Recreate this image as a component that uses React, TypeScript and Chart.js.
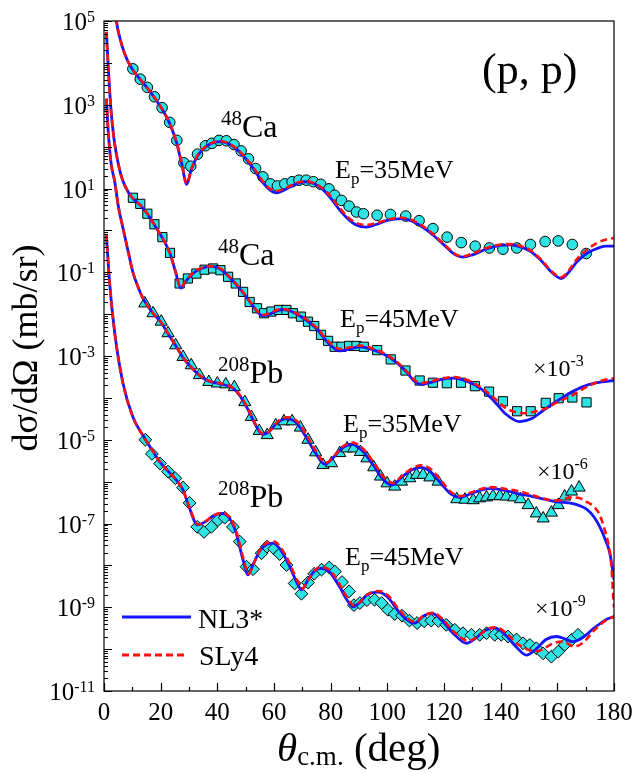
import { useEffect, useRef } from 'react';
import { Chart, registerables } from 'chart.js';
Chart.register(...registerables);

type Pair = [number, number];

// ---------- axis / legend texts ----------
const xTickValues = [0, 20, 40, 60, 80, 100, 120, 140, 160, 180];
const yLabelExponents = [5, 3, 1, -1, -3, -5, -7, -9, -11];
const modelNames = ['NL3*', 'SLy4'];

// ---------- 48Ca, Ep = 35 MeV (unscaled) ----------
const ca35Exp: Pair[] = [
  [10.2, 7.2e3], [12.8, 4.1e3], [15.3, 2.6e3], [17.8, 1.55e3], [20.5, 850], [23.2, 380], [25.7, 141],
  [28.2, 41], [30.6, 34], [33.0, 66], [35.8, 105], [38.1, 120], [40.6, 141], [43.2, 138], [45.9, 112],
  [48.4, 79], [51.0, 51], [53.5, 30], [56.1, 19], [58.7, 12.9], [61.2, 11.5], [63.8, 12.9], [66.4, 14.5],
  [68.8, 15.8], [71.4, 15.8], [73.9, 14.5], [76.5, 12.6], [79.4, 9.8], [81.4, 6.9], [83.8, 5.2],
  [86.5, 3.8], [89.1, 2.75], [91.6, 2.5], [96.4, 2.3], [101.1, 2.4], [106.5, 2.2], [111.2, 1.7],
  [116.1, 1.1], [121.1, 0.69], [126.1, 0.51], [131.0, 0.42], [136.0, 0.38], [140.8, 0.355],
  [145.7, 0.38], [150.5, 0.46], [155.7, 0.54], [160.3, 0.56], [165.3, 0.46], [170.2, 0.28],
];
const ca35NL3: Pair[] = [
  [3.6, 4e5], [4.4, 1e5], [5.5, 4.2e4], [7.3, 1.66e4], [9.7, 7.6e3], [12.8, 4.0e3], [15.3, 2.5e3],
  [17.8, 1.48e3], [20.5, 790], [23.2, 355], [25.5, 132], [27.4, 40], [29.2, 12.6], [30.8, 28], [33, 60],
  [36, 100], [38.8, 126], [41.4, 132], [44, 117], [47, 85], [50, 52], [53, 28], [56, 14], [58.5, 9.3],
  [60.9, 7.9], [63.5, 9.1], [66.5, 11.7], [69, 13.8], [71.4, 14.5], [74, 13.2], [77, 9.8], [80, 5.9],
  [83, 3.16], [86, 1.9], [89, 1.35], [92.6, 1.2], [96, 1.38], [100, 1.74], [105, 1.9], [110, 1.5],
  [115, 0.89], [120, 0.45], [124, 0.26], [126.7, 0.23], [130, 0.26], [135, 0.36], [140, 0.44],
  [143, 0.45], [146, 0.42], [150, 0.33], [154, 0.2], [158, 0.1], [161.4, 0.071], [164, 0.1],
  [167, 0.18], [170.3, 0.28], [174, 0.37], [177, 0.42], [180, 0.42],
];
const ca35SLy4: Pair[] = [
  [3.6, 4e5], [4.4, 1e5], [5.5, 4.2e4], [7.3, 1.66e4], [9.7, 7.6e3], [12.8, 4.0e3], [15.3, 2.5e3],
  [17.8, 1.48e3], [20.5, 790], [23.2, 355], [25.5, 135], [27.4, 42], [29.2, 13], [30.8, 29], [33, 62],
  [36, 102], [38.8, 128], [41.4, 134], [44, 119], [47, 87], [50, 54], [53, 30], [56, 15], [58.5, 10],
  [60.9, 8.7], [63.5, 9.8], [66.5, 12.3], [69, 14.3], [71.4, 14.8], [74, 13.5], [77, 10.2], [80, 6.5],
  [83, 3.55], [86, 2.1], [89, 1.5], [92.6, 1.35], [96, 1.48], [100, 1.8], [105, 2.0], [110, 1.6],
  [115, 0.95], [120, 0.47], [124, 0.27], [126.7, 0.24], [130, 0.28], [135, 0.38], [140, 0.46],
  [143, 0.47], [146, 0.44], [150, 0.35], [154, 0.21], [158, 0.105], [161.4, 0.076], [164, 0.11],
  [167, 0.21], [170.3, 0.34], [174, 0.5], [177, 0.6], [180, 0.66],
];

// ---------- 48Ca, Ep = 45 MeV (x1e-3) ----------
const ca45Exp: Pair[] = [
  [10.2, 6.0], [12.8, 4.3], [15.3, 2.5], [17.8, 1.4], [20.6, 0.69], [23.3, 0.29], [26.7, 0.054],
  [29.6, 0.071], [32.6, 0.093], [35.5, 0.115], [38.5, 0.123], [41.1, 0.112], [43.8, 0.078],
  [46.5, 0.054], [49.1, 0.034], [51.4, 0.0195], [54.0, 0.0138], [56.5, 0.0105], [59.1, 0.0115],
  [61.8, 0.0126], [64.4, 0.0126], [66.7, 0.0105], [69.5, 0.0087], [72.0, 0.0066], [74.2, 0.0052],
  [76.6, 0.0032], [79.1, 0.0023], [81.4, 0.00166], [83.8, 0.00166], [86.5, 0.00174], [89.1, 0.00174],
  [91.7, 0.00166], [96.4, 0.00138], [101.2, 8.3e-4], [106.4, 4.5e-4], [111.4, 2.6e-4], [116.1, 2.3e-4],
  [121.0, 2.24e-4], [126.0, 2.3e-4], [130.9, 1.9e-4], [135.9, 1.41e-4], [140.8, 8.3e-5], [145.8, 4.8e-5],
  [150.6, 4.8e-5], [155.9, 7.6e-5], [160.5, 9.8e-5], [165.3, 1.02e-4], [170.3, 7.8e-5],
];
const ca45NL3: Pair[] = [
  [0.85, 5.5e4], [1.5, 7.9e3], [2.5, 710], [3.5, 158], [4.5, 60], [6, 21], [7.5, 11.2], [9.5, 6.6],
  [12.8, 4.0], [15.3, 2.5], [17.8, 1.35], [20.6, 0.66], [23.3, 0.28], [25.3, 0.1], [27.1, 0.042],
  [28.8, 0.06], [31, 0.089], [34, 0.12], [38, 0.138], [41, 0.12], [44, 0.079], [48, 0.04], [52, 0.0178],
  [54, 0.0117], [56, 0.0091], [58.5, 0.01], [61, 0.012], [63.2, 0.0129], [66, 0.0117], [70, 0.0083],
  [75, 0.0045], [79, 0.0021], [83.2, 0.00132], [86.5, 0.00145], [90.3, 0.00166], [94, 0.00148],
  [100, 1.0e-3], [104, 6.3e-4], [107, 4.0e-4], [109.5, 2.5e-4], [112, 2.1e-4], [115, 2.3e-4],
  [119, 2.75e-4], [123.2, 2.95e-4], [128, 2.5e-4], [133, 1.66e-4], [138, 7.9e-5], [142, 4.0e-5],
  [146.7, 2.7e-5], [151, 3.2e-5], [155, 5.0e-5], [159.5, 8.1e-5], [164, 1.26e-4], [169.1, 1.86e-4],
  [174, 2.3e-4], [180, 2.6e-4],
];
const ca45SLy4: Pair[] = [
  [0.85, 5.5e4], [1.5, 7.9e3], [2.5, 710], [3.5, 158], [4.5, 60], [6, 21], [7.5, 11.2], [9.5, 6.6],
  [12.8, 4.0], [15.3, 2.5], [17.8, 1.35], [20.6, 0.66], [23.3, 0.28], [25.3, 0.1], [27.1, 0.043],
  [28.8, 0.062], [31, 0.091], [34, 0.123], [38, 0.141], [41, 0.123], [44, 0.081], [48, 0.041],
  [52, 0.0182], [54, 0.012], [56, 0.0095], [58.5, 0.0105], [61, 0.0125], [63.2, 0.0132], [66, 0.012],
  [70, 0.0087], [75, 0.0048], [79, 0.0023], [83.2, 0.00148], [86.5, 0.0016], [90.3, 0.00178],
  [94, 0.00158], [100, 1.05e-3], [104, 6.6e-4], [107, 4.2e-4], [109.5, 2.7e-4], [112, 2.25e-4],
  [115, 2.45e-4], [119, 2.9e-4], [123.2, 3.15e-4], [128, 2.7e-4], [133, 1.78e-4], [138, 9.5e-5],
  [142, 5.6e-5], [147.9, 4.3e-5], [152, 4.7e-5], [156, 5.6e-5], [160, 7.9e-5], [165.5, 1.17e-4],
  [170, 1.78e-4], [175, 2.5e-4], [180, 2.95e-4],
];

// ---------- 208Pb, Ep = 35 MeV (x1e-6) ----------
const pb35Exp: Pair[] = [
  [14.4, 0.018], [17.3, 0.0105], [20.2, 0.0066], [22.6, 0.0035], [25.3, 0.0018], [27.9, 9.5e-4],
  [30.8, 6.0e-4], [33.7, 3.5e-4], [37.0, 2.4e-4], [40.0, 2.2e-4], [43.0, 2.1e-4], [46.0, 1.8e-4],
  [49.7, 7.9e-5], [52.0, 3.5e-5], [54.8, 1.62e-5], [57.6, 1.29e-5], [60.6, 2.2e-5], [63.5, 2.75e-5],
  [66.4, 2.75e-5], [69.3, 1.95e-5], [72.0, 1.0e-5], [74.7, 5.0e-6], [77.3, 2.5e-6], [80.3, 2.75e-6],
  [83.2, 4.8e-6], [85.8, 6.2e-6], [88.1, 6.2e-6], [90.5, 5.1e-6], [92.8, 3.6e-6], [95.2, 2.2e-6],
  [97.6, 1.32e-6], [99.9, 9.1e-7], [102.6, 7.6e-7], [105.0, 1.0e-6], [107.9, 1.2e-6], [110.3, 1.45e-6],
  [112.6, 1.45e-6], [115.0, 1.26e-6], [117.9, 1.0e-6], [124.5, 3.8e-7], [127.4, 3.7e-7], [130.3, 3.6e-7],
  [132.6, 4.0e-7], [135.0, 4.2e-7], [137.3, 4.5e-7], [139.7, 4.5e-7], [142.0, 4.4e-7], [144.6, 4.2e-7],
  [147.0, 3.8e-7], [149.7, 2.75e-7], [152.6, 1.74e-7], [155.0, 1.32e-7], [157.9, 1.82e-7],
  [160.3, 2.75e-7], [162.6, 4.4e-7], [165.0, 5.8e-7], [167.7, 7.2e-7],
];
const pb35NL3: Pair[] = [
  [0.85, 1.4e3], [1.5, 224], [2.5, 40], [3.8, 14.5], [5, 4.0], [6.7, 1.12], [8.5, 0.32], [10.2, 0.1],
  [12, 0.045], [13.8, 0.0234], [17.3, 0.0105], [20.2, 0.0063], [22.6, 0.0034], [25.3, 0.00178],
  [28, 8.9e-4], [31, 5.2e-4], [34, 3.3e-4], [37, 2.5e-4], [40, 2.24e-4], [43, 2.0e-4], [45.5, 1.7e-4],
  [48, 1.12e-4], [51, 5.0e-5], [53.5, 2.24e-5], [55.8, 1.35e-5], [58, 1.51e-5], [61, 2.5e-5],
  [64.5, 3.2e-5], [68, 2.5e-5], [71, 1.26e-5], [74.5, 5.0e-6], [77.9, 2.6e-6], [80.5, 3.5e-6],
  [84, 6.3e-6], [87.6, 7.8e-6], [91, 5.6e-6], [95, 2.5e-6], [98.5, 1.12e-6], [101.7, 8.3e-7],
  [105, 1.26e-6], [108.5, 1.9e-6], [111.7, 2.2e-6], [115, 1.78e-6], [119, 8.9e-7], [122.5, 5.0e-7],
  [125.5, 4.2e-7], [129, 5.0e-7], [133, 6.3e-7], [136.5, 6.8e-7], [141, 6.3e-7], [146, 5.2e-7],
  [151.3, 4.4e-7], [155.5, 3.8e-7], [159.7, 3.3e-7], [165.5, 3.0e-7], [170.3, 2.2e-7], [173, 1.41e-7],
  [175, 8.3e-8], [177, 4.0e-8], [178.5, 2.0e-8], [179.5, 7.9e-9], [180, 4.5e-9],
];
const pb35SLy4: Pair[] = [
  [0.85, 1.4e3], [1.5, 224], [2.5, 40], [3.8, 14.5], [5, 4.0], [6.7, 1.12], [8.5, 0.32], [10.2, 0.1],
  [12, 0.045], [13.8, 0.0234], [17.3, 0.0105], [20.2, 0.0063], [22.6, 0.0034], [25.3, 0.00178],
  [28, 8.9e-4], [31, 5.2e-4], [34, 3.35e-4], [37, 2.55e-4], [40, 2.3e-4], [43, 2.05e-4], [45.5, 1.75e-4],
  [48, 1.15e-4], [51, 5.2e-5], [53.5, 2.35e-5], [56, 1.4e-5], [58.3, 1.6e-5], [61.3, 2.7e-5],
  [64.8, 3.45e-5], [68.3, 2.7e-5], [71.3, 1.35e-5], [74.8, 5.4e-6], [78.2, 2.8e-6], [80.8, 3.8e-6],
  [84.3, 6.9e-6], [87.9, 8.5e-6], [91.3, 6.2e-6], [95.3, 2.8e-6], [98.8, 1.26e-6], [102, 9.3e-7],
  [105.3, 1.4e-6], [108.8, 2.1e-6], [112, 2.45e-6], [115.3, 2.0e-6], [119.3, 1.0e-6], [122.8, 5.4e-7],
  [125.8, 4.5e-7], [129.3, 5.4e-7], [133.3, 6.8e-7], [137, 7.4e-7], [141, 6.8e-7], [146, 6.0e-7],
  [151, 4.8e-7], [156, 3.8e-7], [160, 3.55e-7], [165, 4.2e-7], [168, 4.0e-7], [170.3, 3.3e-7],
  [173, 2.5e-7], [175, 1.58e-7], [176.5, 7.9e-8], [178, 3.2e-8], [179.1, 9.3e-9], [179.7, 2.0e-9],
  [180, 1.0e-9],
];

// ---------- 208Pb, Ep = 45 MeV (x1e-9) ----------
const pb45Exp: Pair[] = [
  [14.6, 1.0e-5], [16.9, 4.6e-6], [19.8, 2.7e-6], [22.6, 1.74e-6], [25.2, 1.2e-6], [27.9, 7.2e-7],
  [30.2, 3.1e-7], [32.9, 8.3e-8], [35.3, 6.3e-8], [37.9, 8.3e-8], [40.2, 1.2e-7], [42.6, 1.38e-7],
  [45.5, 8.3e-8], [47.9, 3.7e-8], [50.3, 9.3e-9], [52.6, 8.1e-9], [55.6, 1.95e-8], [57.5, 2.8e-8],
  [60.0, 2.5e-8], [62.0, 1.86e-8], [64.4, 1.02e-8], [67.3, 3.7e-9], [69.7, 2.1e-9], [72.0, 3.9e-9],
  [74.2, 6.3e-9], [76.8, 7.9e-9], [79.5, 8.9e-9], [81.5, 7.1e-9], [84.0, 4.0e-9], [86.5, 2.4e-9],
  [88.2, 1.12e-9], [90.3, 1.26e-9], [92.8, 1.48e-9], [95.5, 1.51e-9], [98.0, 1.26e-9], [100.2, 8.7e-10],
  [102.6, 6.9e-10], [105.2, 6.3e-10], [107.8, 4.8e-10], [110.5, 4.2e-10], [113.0, 4.6e-10],
  [115.5, 4.8e-10], [118.0, 4.7e-10], [120.8, 3.8e-10], [123.8, 2.9e-10], [126.7, 2.4e-10],
  [129.7, 2.2e-10], [132.6, 2.2e-10], [135.0, 2.4e-10], [137.9, 2.2e-10], [140.2, 2.2e-10],
  [142.6, 2.0e-10], [145.6, 1.7e-10], [147.9, 1.38e-10], [150.3, 1.26e-10], [152.6, 1.05e-10],
  [155.0, 7.9e-11], [157.9, 6.6e-11], [160.3, 8.7e-11], [162.6, 1.26e-10], [165.0, 1.66e-10],
  [167.3, 2.2e-10],
];
const pb45NL3: Pair[] = [
  [0.85, 0.78], [2.0, 0.054], [3.8, 0.0035], [6.7, 2.24e-4], [10.2, 3.5e-5], [14.4, 1.07e-5],
  [17.5, 5.0e-6], [20, 2.8e-6], [22.6, 1.78e-6], [25, 1.2e-6], [27.9, 6.3e-7], [30, 2.5e-7], [33, 9.3e-8],
  [36, 1.12e-7], [38.5, 1.51e-7], [41.4, 1.74e-7], [44, 1.41e-7], [46.5, 6.3e-8], [49, 1.41e-8],
  [50.8, 5.9e-9], [52.5, 1.0e-8], [55, 2.24e-8], [57.5, 3.2e-8], [59.7, 3.4e-8], [62, 2.5e-8],
  [65, 1.12e-8], [68, 4.0e-9], [69.7, 2.6e-9], [72, 4.5e-9], [74.5, 7.6e-9], [76.7, 8.5e-9],
  [79.5, 7.1e-9], [83, 3.2e-9], [86, 1.41e-9], [87.9, 1.02e-9], [90, 1.26e-9], [93, 2.0e-9],
  [96.7, 2.3e-9], [100, 1.78e-9], [104, 7.9e-10], [107.5, 4.7e-10], [109.7, 4.2e-10], [112.5, 6.0e-10],
  [115.6, 7.2e-10], [119, 5.0e-10], [123, 2.5e-10], [127.9, 1.38e-10], [131, 1.78e-10], [134.5, 2.8e-10],
  [137.9, 3.2e-10], [141.5, 2.24e-10], [145.5, 1.12e-10], [149.1, 7.2e-11], [152.5, 1.0e-10],
  [156, 1.7e-10], [159.7, 2.0e-10], [163, 1.74e-10], [165.5, 1.51e-10], [169, 1.9e-10], [173, 3.2e-10],
  [177, 5.0e-10], [180, 6.0e-10],
];
const pb45SLy4: Pair[] = [
  [0.85, 0.78], [2.0, 0.054], [3.8, 0.0035], [6.7, 2.24e-4], [10.2, 3.5e-5], [14.4, 1.07e-5],
  [17.5, 5.0e-6], [20, 2.8e-6], [22.6, 1.78e-6], [25, 1.2e-6], [27.9, 6.3e-7], [30, 2.6e-7],
  [33.2, 9.5e-8], [36, 1.15e-7], [38.5, 1.55e-7], [41.6, 1.78e-7], [44.2, 1.45e-7], [46.7, 6.5e-8],
  [49.2, 1.45e-8], [51, 6.3e-9], [52.7, 1.05e-8], [55.2, 2.4e-8], [57.7, 3.5e-8], [60, 3.7e-8],
  [62.3, 2.7e-8], [65.3, 1.2e-8], [68.3, 4.2e-9], [70, 2.8e-9], [72.3, 4.8e-9], [74.8, 8.1e-9],
  [77, 9.1e-9], [79.8, 7.6e-9], [83.3, 3.4e-9], [86.3, 1.5e-9], [88.2, 1.1e-9], [90.3, 1.35e-9],
  [93.3, 2.1e-9], [97, 2.45e-9], [100.3, 1.9e-9], [104.3, 8.5e-10], [107.8, 5.0e-10], [110, 4.5e-10],
  [112.8, 6.3e-10], [116.2, 7.4e-10], [119.5, 5.2e-10], [123.5, 2.6e-10], [128.5, 1.58e-10],
  [131.5, 1.9e-10], [135, 2.95e-10], [138.5, 3.3e-10], [142, 2.4e-10], [146, 1.32e-10], [150, 9.5e-11],
  [153, 8.9e-11], [156, 1.12e-10], [159, 1.41e-10], [162, 1.51e-10], [166, 1.15e-10], [169, 1.41e-10],
  [173, 2.8e-10], [177, 4.8e-10], [180, 6.0e-10],
];

// ---------- styling ----------
const SERIF = '"Liberation Serif", "Times New Roman", serif';
const CYAN = '#2ee3e3';
const BLUE = '#1414ff';
const RED = '#ff1010';

const toXY = (a: Pair[]) => a.map(([x, y]) => ({ x, y }));

type Run = { t: string; size: number; dy?: number; italic?: boolean };
const fnt = (size: number, italic = false) => `${italic ? 'italic ' : ''}${size}px ${SERIF}`;

function drawRuns(ctx: CanvasRenderingContext2D, x: number, y: number, runs: Run[], align: 'left' | 'right' | 'center' = 'left') {
  ctx.textAlign = 'left';
  ctx.textBaseline = 'alphabetic';
  const widths = runs.map((r) => {
    ctx.font = fnt(r.size, r.italic);
    return ctx.measureText(r.t).width;
  });
  const total = widths.reduce((s, w) => s + w, 0);
  let cx = align === 'right' ? x - total : align === 'center' ? x - total / 2 : x;
  runs.forEach((r, i) => {
    ctx.font = fnt(r.size, r.italic);
    ctx.fillText(r.t, cx, y + (r.dy || 0));
    cx += widths[i];
  });
}

const decorPlugin = {
  id: 'decor',
  afterDraw(chart: any) {
    const { ctx, chartArea: a, scales } = chart;
    const xs = scales.x;
    const ys = scales.y;
    ctx.save();
    ctx.strokeStyle = '#000';
    ctx.fillStyle = '#000';
    ctx.lineWidth = 1.2;
    ctx.strokeRect(a.left, a.top, a.right - a.left, a.bottom - a.top);

    // ticks
    ctx.beginPath();
    for (let v = 0; v <= 180; v += 10) {
      const px = Math.round(xs.getPixelForValue(v)) + 0.5;
      const len = v % 20 === 0 ? 8 : 4;
      ctx.moveTo(px, a.bottom);
      ctx.lineTo(px, a.bottom - len);
    }
    for (let e = -11; e <= 5; e++) {
      for (let k = 1; k <= 9; k++) {
        if (e === 5 && k > 1) break;
        const py = Math.round(ys.getPixelForValue(k * Math.pow(10, e))) + 0.5;
        const len = k === 1 ? 8 : 4;
        ctx.moveTo(a.left, py);
        ctx.lineTo(a.left + len, py);
      }
    }
    ctx.stroke();

    // tick labels
    ctx.font = fnt(25);
    ctx.textAlign = 'center';
    ctx.textBaseline = 'alphabetic';
    xTickValues.forEach((v) => {
      ctx.fillText(String(v), xs.getPixelForValue(v), a.bottom + 29);
    });
    yLabelExponents.forEach((e) => {
      const py = ys.getPixelForValue(Math.pow(10, e));
      drawRuns(ctx, 95, py + 9, [
        { t: '10', size: 25 },
        { t: String(e), size: 16, dy: -8 },
      ], 'right');
    });

    // axis titles
    drawRuns(ctx, 277, 761, [
      { t: 'θ', size: 41, italic: true },
      { t: 'c.m.', size: 27, dy: 4 },
      { t: ' (deg)', size: 41 },
    ]);
    ctx.save();
    ctx.translate(37, 348);
    ctx.rotate(-Math.PI / 2);
    ctx.font = fnt(36);
    ctx.textAlign = 'center';
    ctx.textBaseline = 'alphabetic';
    ctx.fillText('dσ/dΩ (mb/sr)', 0, 0);
    ctx.restore();

    // annotations
    drawRuns(ctx, 482, 84, [{ t: '(p, p)', size: 44 }]);
    const nucleus = (x: number, y: number, mass: string, sym: string) =>
      drawRuns(ctx, x, y, [{ t: mass, size: 21, dy: -12.5 }, { t: sym, size: 32 }]);
    nucleus(221, 137, '48', 'Ca');
    nucleus(218, 265, '48', 'Ca');
    nucleus(218, 383, '208', 'Pb');
    nucleus(218, 507, '208', 'Pb');
    const energy = (x: number, y: number, e: string) =>
      drawRuns(ctx, x, y, [{ t: 'E', size: 26 }, { t: 'p', size: 17, dy: 6 }, { t: '=' + e + 'MeV', size: 26 }]);
    energy(335, 178, '35');
    energy(340, 327, '45');
    energy(343, 432, '35');
    energy(345, 565, '45');
    const scale = (x: number, y: number, e: string) =>
      drawRuns(ctx, x, y, [{ t: '×10', size: 24 }, { t: e, size: 16, dy: -10 }]);
    scale(533, 376, '-3');
    scale(537, 479, '-6');
    scale(535, 616, '-9');

    // legend
    ctx.lineWidth = 3;
    ctx.strokeStyle = BLUE;
    ctx.setLineDash([]);
    ctx.beginPath();
    ctx.moveTo(122, 617);
    ctx.lineTo(191, 617);
    ctx.stroke();
    ctx.strokeStyle = RED;
    ctx.setLineDash([7, 4]);
    ctx.beginPath();
    ctx.moveTo(122, 655);
    ctx.lineTo(186, 655);
    ctx.stroke();
    ctx.setLineDash([]);
    ctx.fillStyle = '#000';
    drawRuns(ctx, 198, 628, [{ t: modelNames[0], size: 28 }]);
    drawRuns(ctx, 199, 665, [{ t: modelNames[1], size: 28 }]);
    ctx.restore();
  },
};

export default function App() {
  const ref = useRef<HTMLCanvasElement | null>(null);
  useEffect(() => {
    if (!ref.current) return;
    const markers = (data: Pair[], style: string, radius: number) => ({
      data: toXY(data),
      showLine: false,
      pointStyle: style,
      pointRadius: radius,
      pointBackgroundColor: CYAN,
      pointBorderColor: '#000',
      pointBorderWidth: 1,
      order: 3,
    });
    const curve = (data: Pair[], label: string, dashed: boolean) => ({
      label,
      data: toXY(data),
      showLine: true,
      pointRadius: 0,
      borderColor: dashed ? RED : BLUE,
      borderWidth: dashed ? 2.6 : 2.8,
      borderDash: dashed ? [7, 4] : [],
      cubicInterpolationMode: 'monotone',
      fill: false,
      clip: 0,
      order: dashed ? 1 : 2,
    });
    const chart = new Chart(ref.current, {
      type: 'scatter',
      data: {
        datasets: [
          curve(ca35SLy4, modelNames[1], true),
          curve(ca45SLy4, modelNames[1], true),
          curve(pb35SLy4, modelNames[1], true),
          curve(pb45SLy4, modelNames[1], true),
          curve(ca35NL3, modelNames[0], false),
          curve(ca45NL3, modelNames[0], false),
          curve(pb35NL3, modelNames[0], false),
          curve(pb45NL3, modelNames[0], false),
          markers(ca35Exp, 'circle', 5.3),
          markers(ca45Exp, 'rect', 6.5),
          markers(pb35Exp, 'triangle', 7),
          markers(pb45Exp, 'rectRot', 6.4),
        ] as any,
      },
      options: {
        animation: false,
        responsive: false,
        devicePixelRatio: 1,
        events: [],
        layout: { padding: { left: 104, right: 22, top: 21, bottom: 82 } },
        plugins: { legend: { display: false }, tooltip: { enabled: false } },
        scales: {
          x: { type: 'linear', min: 0, max: 180, display: false },
          y: { type: 'logarithmic', min: 1e-11, max: 1e5, display: false },
        },
      },
      plugins: [decorPlugin],
    });
    return () => chart.destroy();
  }, []);
  return (
    <div style={{ position: 'absolute', left: 0, top: 0, width: 636, height: 773, background: '#fff' }}>
      <canvas ref={ref} width={636} height={773} style={{ display: 'block' }} />
    </div>
  );
}
